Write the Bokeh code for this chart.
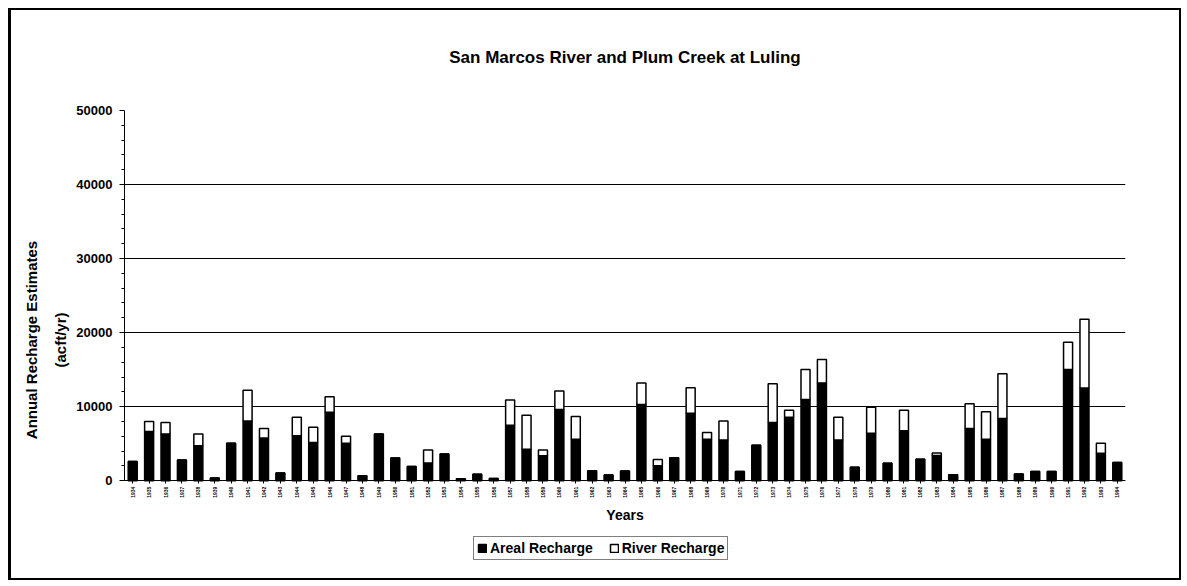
import math
from bokeh.plotting import figure
from bokeh.models import (FactorRange, Range1d, FixedTicker, Legend, LegendItem,
                          ColumnDataSource, Title)
from bokeh.embed import file_html
from bokeh.resources import INLINE

years = [str(y) for y in range(1934, 1995)]

areal = [2600, 6650, 6300, 2800, 4700, 350, 5050, 8050, 5750, 1050,
         6050, 5150, 9250, 5050, 650, 6300, 3050, 1900, 2400, 3600,
         250, 850, 300, 7500, 4250, 3350, 9600, 5600, 1350, 750,
         1300, 10300, 2000, 3100, 9100, 5600, 5500, 1250, 4800, 7850,
         8550, 10950, 13200, 5500, 1800, 6400, 2350, 6750, 2900, 3400,
         800, 7050, 5600, 8400, 900, 1250, 1250, 15000, 12500, 3700,
         2450]

river = [0, 1340, 1550, 0, 1600, 0, 0, 4150, 1300, 0,
         2500, 2050, 2100, 950, 0, 0, 0, 0, 1750, 0,
         0, 0, 0, 3400, 4600, 800, 2500, 3050, 0, 0,
         0, 2900, 850, 0, 3450, 900, 2550, 0, 0, 5250,
         950, 4050, 3150, 3050, 0, 3500, 0, 2750, 0, 350,
         0, 3350, 3700, 6050, 0, 0, 0, 3700, 9300, 1350,
         0]

y_ticks = [0, 10000, 20000, 30000, 40000, 50000]
y_minor_ticks = [2000, 4000, 6000, 8000, 12000, 14000, 16000, 18000,
                 22000, 24000, 26000, 28000, 32000, 34000, 36000, 38000,
                 42000, 44000, 46000, 48000]

title_text = "San Marcos River and Plum Creek at Luling"
y_title_lines = ["Annual Recharge Estimates", "(acft/yr)"]
x_title = "Years"
series_names = ["Areal Recharge", "River Recharge"]

FONT = "Liberation Sans"

src = ColumnDataSource(dict(year=years, areal=areal, river=river))

p = figure(x_range=FactorRange(*years), y_range=Range1d(-12000, 50000),
           frame_width=1001, frame_height=459, title=None,
           output_backend="svg", toolbar_location=None,
           min_border_left=113, min_border_top=100, min_border_right=54,
           min_border_bottom=9, background_fill_color="white",
           border_fill_color="white")
p.styles = {"border": "2px solid black", "border-left": "3px solid black",
            "margin-left": "8px", "margin-top": "8px"}

p.add_layout(Title(text=" ", text_font_size="24px"), "above")
p.add_layout(Title(text=title_text, align="center", offset=-10,
                   text_font=FONT, text_font_size="17px", text_font_style="bold",
                   text_color="black"), "above")

rs = p.vbar_stack(["areal", "river"], x="year", width=0.55, source=src,
                  fill_color=["black", "white"], line_color="black", line_width=1.5)

p.outline_line_color = None
p.xgrid.grid_line_color = None
p.ygrid.grid_line_color = "black"
p.ygrid.grid_line_width = 1

yax = p.yaxis[0]
yax.ticker = FixedTicker(ticks=y_ticks, minor_ticks=y_minor_ticks)
yax.bounds = (0, 50000)
yax.axis_line_color = "black"
yax.major_tick_in = 0
yax.major_tick_out = 5
yax.minor_tick_in = 0
yax.minor_tick_out = 3
yax.major_label_standoff = 7
yax.major_label_text_font = FONT
yax.major_label_text_font_size = "13px"
yax.major_label_text_font_style = "bold"
yax.major_label_text_color = "black"
p.ygrid.ticker = yax.ticker

# y axis title as two left-side titles, centred on the 0..50000 span
p.add_layout(Title(text=y_title_lines[1], align="center", offset=43,
                   text_font=FONT, text_font_size="15px", text_font_style="bold",
                   text_color="black"), "left")
p.add_layout(Title(text=y_title_lines[0], align="center", offset=43,
                   text_font=FONT, text_font_size="15px", text_font_style="bold",
                   text_color="black"), "left")

xax = p.xaxis[0]
xax.fixed_location = 0
xax.axis_line_color = "black"
xax.major_tick_in = 0
xax.major_tick_out = 3
xax.major_label_orientation = math.pi / 2
xax.major_label_text_font = FONT
xax.major_label_text_font_size = "5px"
xax.major_label_text_font_style = "bold"
xax.major_label_text_color = "black"
xax.major_label_standoff = 3
xax.axis_label = x_title
xax.axis_label_text_font = FONT
xax.axis_label_text_font_size = "14px"
xax.axis_label_text_font_style = "bold"
xax.axis_label_text_color = "black"
xax.axis_label_standoff = 6

legend = Legend(items=[LegendItem(label=series_names[0], renderers=[rs[0]]),
                       LegendItem(label=series_names[1], renderers=[rs[1]])],
                orientation="horizontal", location=(349, 9),
                label_text_font=FONT, label_text_font_size="14px",
                label_text_font_style="bold", label_text_color="black",
                label_standoff=3, glyph_width=10, glyph_height=10,
                spacing=16, padding=3, margin=0,
                border_line_color="black", border_line_width=1,
                label_height=14, background_fill_color="white")
p.add_layout(legend, "center")

open("out.html", "w").write(file_html(p, INLINE))
